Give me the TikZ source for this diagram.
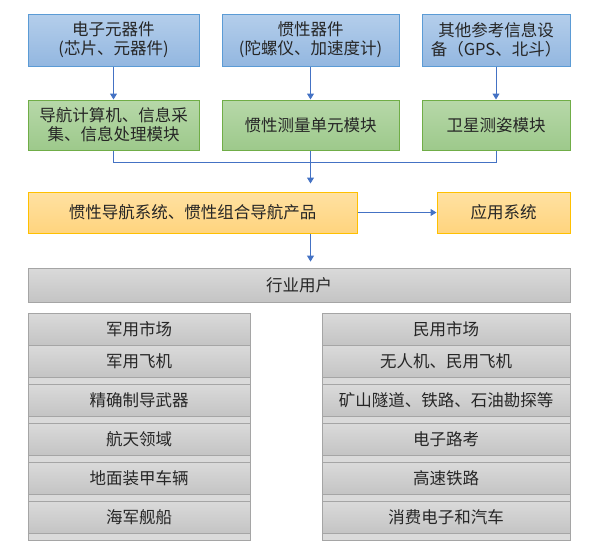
\documentclass[tikz,border=0pt]{standalone}
\usepackage{fontspec}
\setmainfont{Noto Sans CJK SC}
\usetikzlibrary{arrows.meta}

\definecolor{blueedge}{HTML}{5B9BD5}
\definecolor{bluetop}{HTML}{B4CEEB}
\definecolor{bluebot}{HTML}{93B7E0}
\definecolor{greenedge}{HTML}{70AD47}
\definecolor{greentop}{HTML}{B7D8A9}
\definecolor{greenbot}{HTML}{9DC98B}
\definecolor{yellowedge}{HTML}{FFC000}
\definecolor{yellowtop}{HTML}{FFE1A2}
\definecolor{yellowbot}{HTML}{FFD47E}
\definecolor{grayedge}{HTML}{A5A5A5}
\definecolor{graytop}{HTML}{DADADA}
\definecolor{graybot}{HTML}{C4C4C4}
\definecolor{linkblue}{HTML}{4472C4}

\begin{document}
\begin{tikzpicture}[x=1pt, y=-1pt,
  every node/.style={font=\fontsize{16.5}{19}\selectfont, text=black!85, inner sep=0pt, align=center},
  bluebox/.style={draw=blueedge, line width=1pt, top color=bluetop, bottom color=bluebot, minimum height=52pt},
  greenbox/.style={draw=greenedge, line width=1pt, top color=greentop, bottom color=greenbot, minimum height=50pt},
  yellowbox/.style={draw=yellowedge, line width=1pt, top color=yellowtop, bottom color=yellowbot, minimum height=41pt},
  graybox/.style={draw=grayedge, line width=0.8pt, top color=graytop, bottom color=graybot, minimum height=32pt},
  link/.style={draw=linkblue, line width=1pt, -{Triangle[width=7pt,length=6pt]}},
  wire/.style={draw=linkblue, line width=1pt}]

\useasboundingbox (0,0) rectangle (589,555);

% top row
\node[bluebox, minimum width=171pt] (parts) at (113.5,40) {电子元器件\\(芯片、元器件)};
\node[bluebox, minimum width=177pt] (inertial) at (310.5,40) {惯性器件\\(陀螺仪、加速度计)};
\node[bluebox, minimum width=148pt] (reference) at (496,40) {其他参考信息设\\备（GPS、北斗）};

% modules
\node[greenbox, minimum width=171pt] (compute) at (113.5,125) {导航计算机、信息采\\集、信息处理模块};
\node[greenbox, minimum width=177pt] (imu) at (310.5,125) {惯性测量单元模块};
\node[greenbox, minimum width=148pt] (attitude) at (496,125) {卫星测姿模块};

% products
\node[yellowbox, minimum width=329pt] (product) at (192.5,212.5) {惯性导航系统、惯性组合导航产品};
\node[yellowbox, minimum width=133pt] (apply) at (503.5,212.5) {应用系统};

\node[graybox, minimum width=542pt, minimum height=34pt] (users) at (299,285) {行业用户};

% military market
\draw[fill=graytop, draw=grayedge, line width=0.8pt] (28,313) rectangle (250,540);
\node[graybox, minimum width=222pt] (milhead) at (139,329) {军用市场};
\node[graybox, minimum width=222pt] (mil1) at (139,361) {军用飞机};
\node[graybox, minimum width=222pt] (mil2) at (139,400) {精确制导武器};
\node[graybox, minimum width=222pt] (mil3) at (139,439) {航天领域};
\node[graybox, minimum width=222pt] (mil4) at (139,478) {地面装甲车辆};
\node[graybox, minimum width=222pt] (mil5) at (139,517) {海军舰船};

% civil market
\draw[fill=graytop, draw=grayedge, line width=0.8pt] (322,313) rectangle (570,540);
\node[graybox, minimum width=248pt] (civhead) at (446,329) {民用市场};
\node[graybox, minimum width=248pt] (civ1) at (446,361) {无人机、民用飞机};
\node[graybox, minimum width=248pt] (civ2) at (446,400) {矿山隧道、铁路、石油勘探等};
\node[graybox, minimum width=248pt] (civ3) at (446,439) {电子路考};
\node[graybox, minimum width=248pt] (civ4) at (446,478) {高速铁路};
\node[graybox, minimum width=248pt] (civ5) at (446,517) {消费电子和汽车};

% connectors
\draw[link] (parts) -- (compute);
\draw[link] (inertial) -- (imu);
\draw[link] (reference) -- (attitude);
\draw[wire] (compute.south) -- ++(0,12) -| (attitude.south);
\draw[link, shorten >=8pt] (imu.south) -- (imu.south |- product.north);
\draw[link] (product) -- (apply);
\draw[link, shorten >=6pt] (imu.south |- product.south) -- (imu.south |- users.north);
\end{tikzpicture}
\end{document}
